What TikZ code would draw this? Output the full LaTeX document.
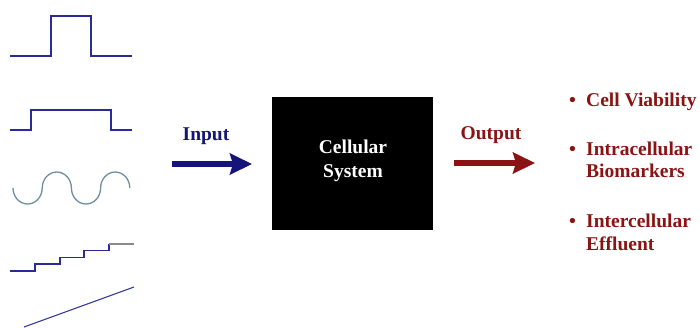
\documentclass[tikz,border=0pt]{standalone}
\usepackage{fontspec}
\setmainfont{Liberation Serif}
\usetikzlibrary{arrows.meta}
\definecolor{sigblue}{HTML}{2A2A9A}
\definecolor{sinecol}{HTML}{6E8F9C}
\definecolor{inblue}{HTML}{14147A}
\definecolor{outred}{HTML}{8A1414}
\definecolor{stairgray}{HTML}{8A8A8A}
\begin{document}
\begin{tikzpicture}[x=1pt,y=-1pt,
  sig/.style={draw=sigblue,line width=1.1pt},
  bigarrow/.style={line width=5.5pt,-{Stealth[length=22pt,width=21pt,inset=3pt]}},
  lbl/.style={font=\bfseries\fontsize{19.5}{22}\selectfont,inner sep=0pt,anchor=base},
  outtxt/.style={font=\bfseries\fontsize{19.5}{22}\selectfont,text=outred,inner sep=0pt,anchor=base west}]
\useasboundingbox (0,0) rectangle (700,327);
% pulse 1
\draw[sig] (10,56) -- (51,56) -- (51,16) -- (91,16) -- (91,56) -- (132,56);
% pulse 2
\draw[sig] (10,130) -- (31,130) -- (31,110) -- (111,110) -- (111,130) -- (132,130);
% sine (chain of half ellipses)
\draw[draw=sinecol,line width=1.3pt] (13,188)
  arc[start angle=180,end angle=360,x radius=14.6,y radius=-16]
  arc[start angle=180,end angle=0,x radius=14.6,y radius=-16]
  arc[start angle=180,end angle=360,x radius=14.6,y radius=-16]
  arc[start angle=180,end angle=0,x radius=14.6,y radius=-16];
% staircase
\draw[sig] (10,271) -- (35,271) -- (35,264) -- (60,264) -- (60,257.5) -- (84,257.5) -- (84,250.5) -- (109,250.5) -- (109,244);
\draw[draw=stairgray,line width=1.1pt] (109,244) -- (134,244);
% ramp
\draw[draw=sigblue!80!sinecol,line width=1.1pt] (24,327) -- (134,287);
% input
\node[lbl,text=inblue] (inlbl) at (206,140) {Input};
\coordinate (ina) at (172,164);
\coordinate (inb) at (252,164);
\draw[bigarrow,draw=inblue,fill=inblue] (ina) -- (inb);
% box
\node[fill=black,minimum width=161pt,minimum height=133pt,inner sep=0pt,anchor=north west] (box) at (272,97) {};
\node[lbl,text=white] (boxtxt1) at (353,153) {Cellular};
\node[lbl,text=white] (boxtxt2) at (353,177) {System};
% output
\node[lbl,text=outred] (outlbl) at (491,139) {Output};
\coordinate (outa) at (454,163);
\coordinate (outb) at (535,163);
\draw[bigarrow,draw=outred,fill=outred] (outa) -- (outb);
% bullets
\node[outtxt] (b1) at (569,106) {•};
\node[outtxt] (t1) at (586,106) {Cell Viability};
\node[outtxt] (b2) at (569,155) {•};
\node[outtxt] (t2) at (586,155) {Intracellular};
\node[outtxt] (t2b) at (586,177) {Biomarkers};
\node[outtxt] (b3) at (569,227) {•};
\node[outtxt] (t3) at (586,227) {Intercellular};
\node[outtxt] (t3b) at (586,250) {Effluent};
\end{tikzpicture}
\end{document}
